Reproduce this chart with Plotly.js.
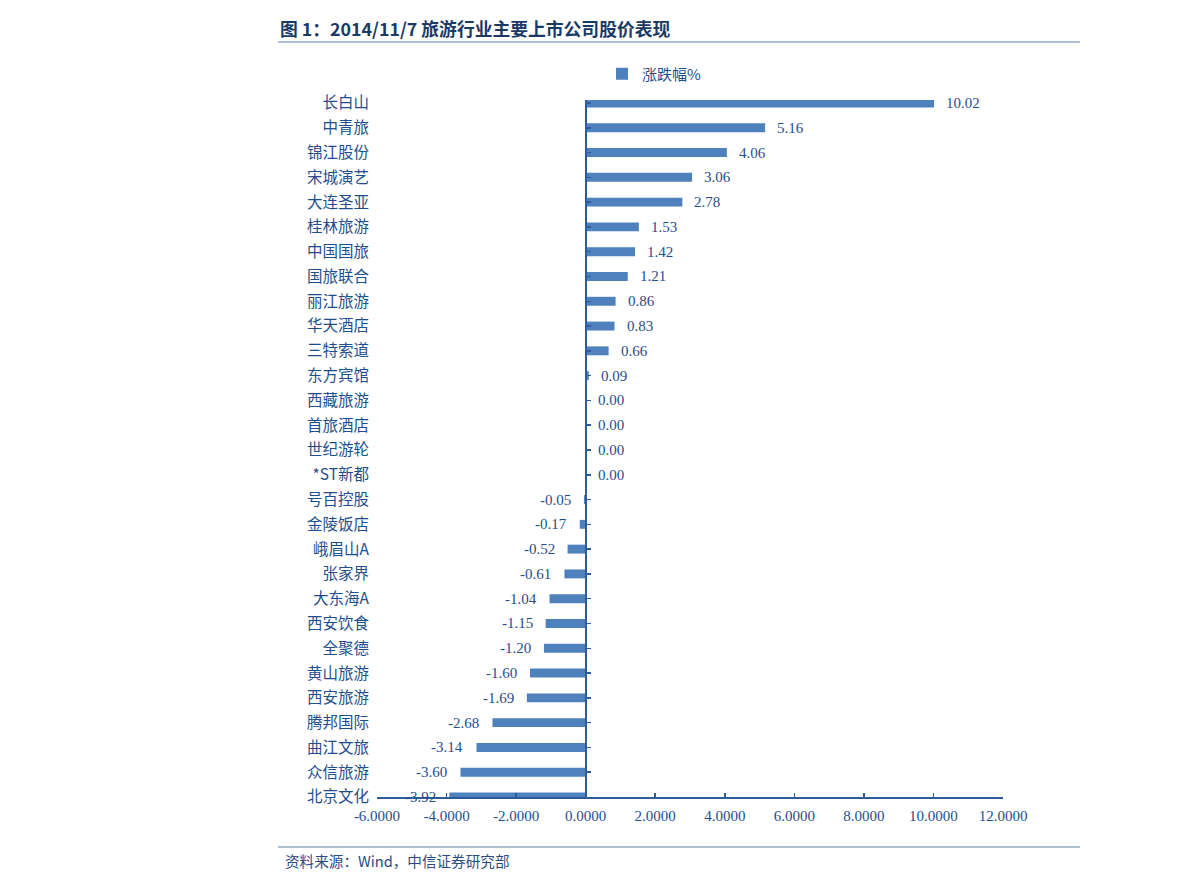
<!DOCTYPE html>
<html>
<head>
<meta charset="utf-8">
<script src="https://cdn.plot.ly/plotly-3.0.1.min.js"></script>
<style>html,body{margin:0;padding:0;background:#fff;}#chart{width:1191px;height:889px;}</style>
</head>
<body>
<div id="chart"></div>
<script>
const companies = ["长白山","中青旅","锦江股份","宋城演艺","大连圣亚","桂林旅游","中国国旅","国旅联合","丽江旅游","华天酒店","三特索道","东方宾馆","西藏旅游","首旅酒店","世纪游轮","*ST新都","号百控股","金陵饭店","峨眉山A","张家界","大东海A","西安饮食","全聚德","黄山旅游","西安旅游","腾邦国际","曲江文旅","众信旅游","北京文化"];
const changePct = [10.02,5.16,4.06,3.06,2.78,1.53,1.42,1.21,0.86,0.83,0.66,0.09,0,0,0,0,-0.05,-0.17,-0.52,-0.61,-1.04,-1.15,-1.20,-1.60,-1.69,-2.68,-3.14,-3.60,-3.92];
const seriesName = "涨跌幅%";
const titleText = "图 1：2014/11/7 旅游行业主要上市公司股价表现";
const sourceText = "资料来源：Wind，中信证券研究部";
const xTicks = [-6,-4,-2,0,2,4,6,8,10,12];
const xTickText = xTicks.map(v => v.toFixed(4));

const serif = "'Liberation Serif','Times New Roman','Noto Sans CJK SC',serif";
const cjk = "'Noto Sans CJK SC',sans-serif";
const labelColor = "#1F4E8C";
const axisColor = "#2E5C9A";
const barColor = "#4F81BD";

const L = 377, R = 1003, T = 100, B = 797;
const W = 1191, H = 889;
const pw = R - L, ph = B - T;
const px = x => (x - L) / pw;
const py = y => (B - y) / ph;

const traces = [
  {type:'bar', orientation:'h', x:changePct, y:companies, name:seriesName,
   marker:{color:barColor}, width:0.36, hoverinfo:'x+y', cliponaxis:false},
  {type:'bar', orientation:'h', x:changePct, y:companies, yaxis:'y2', showlegend:false,
   marker:{color:'rgba(0,0,0,0)'}, width:0.36, hoverinfo:'skip'}
];

const annotations = companies.map((c,i)=>({
  x: changePct[i], y: c, xref:'x', yref:'y', text: changePct[i].toFixed(2),
  showarrow:false, xanchor: changePct[i] >= 0 ? 'left' : 'right',
  xshift: changePct[i] >= 0 ? 10 : -11,
  font:{family:serif, size:15, color:labelColor}
}));
annotations.push({
  xref:'paper', yref:'paper', x:px(283), y:py(860), xanchor:'left', yanchor:'middle',
  text:sourceText, showarrow:false, font:{family:cjk, size:14.6, color:'#2B4C7E'}
});

const layout = {
  width:W, height:H,
  margin:{l:L, r:W-R, t:T, b:H-B, pad:0},
  paper_bgcolor:'#fff', plot_bgcolor:'#fff',
  title:{text:titleText, xref:'container', yref:'container', x:280/W, xanchor:'left',
         y:1-30/H, yanchor:'middle', font:{family:cjk, size:17.8, color:'#1A3A66', weight:'bold'}},
  showlegend:true,
  legend:{orientation:'h', x:px(602), xanchor:'left', y:py(74), yanchor:'middle',
          font:{family:cjk, size:15, color:labelColor}, itemwidth:30, bgcolor:'rgba(0,0,0,0)'},
  xaxis:{range:[-6,12], tickvals:xTicks, ticktext:xTickText, showgrid:false, zeroline:false,
         showline:true, linecolor:axisColor, linewidth:1.5, ticks:'inside', ticklen:4,
         tickcolor:axisColor, tickwidth:1.5, ticklabelstandoff:4,
         tickfont:{family:serif, size:15, color:labelColor}, fixedrange:true},
  yaxis:{type:'category', categoryarray:companies, categoryorder:'array', range:[28,-0.12],
         showgrid:false, zeroline:false, showline:false, ticks:'', ticklabelstandoff:7,
         tickfont:{family:cjk, size:15.5, color:labelColor}, fixedrange:true},
  yaxis2:{type:'category', categoryarray:companies, categoryorder:'array', range:[28,-0.12],
          overlaying:'y', anchor:'free', side:'left', position:px(585),
          showgrid:false, zeroline:false, showline:true, linecolor:axisColor, linewidth:1.5,
          ticks:'inside', ticklen:4, tickcolor:axisColor, tickwidth:1.5,
          showticklabels:false, fixedrange:true},
  bargap:0.6,
  annotations:annotations,
  shapes:[
    {type:'line', xref:'paper', yref:'paper', x0:px(278), x1:px(1080), y0:py(42), y1:py(42),
     line:{color:'#5B7FA6', width:1}},
    {type:'line', xref:'paper', yref:'paper', x0:px(278), x1:px(1080), y0:py(847), y1:py(847),
     line:{color:'#5B7FA6', width:1}}
  ]
};

Plotly.newPlot('chart', traces, layout, {displayModeBar:false, staticPlot:true});
</script>
</body>
</html>
